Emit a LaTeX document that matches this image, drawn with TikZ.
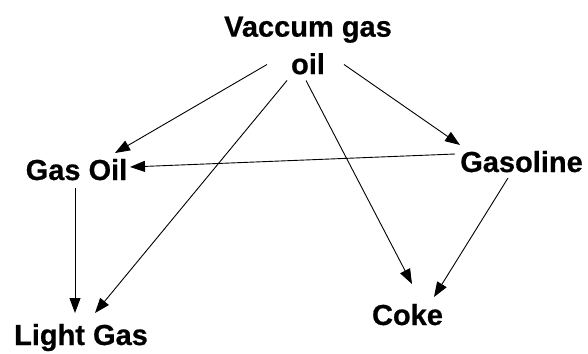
\documentclass[tikz,border=0pt]{standalone}
\usepackage{fontspec}
\setmainfont{Liberation Sans}
\newfontfamily\lblfont{Liberation Sans Bold}[FakeBold=0.6]
\usetikzlibrary{arrows.meta}
\tikzset{
  lbl/.style={font=\fontsize{29}{37.5}\selectfont\lblfont, inner sep=0pt, align=center},
  link/.style={-{Triangle[length=15pt,width=11pt]}, line width=0.9pt}
}
\begin{document}
\begin{tikzpicture}[x=1pt, y=-1pt]
  \useasboundingbox (0,0) rectangle (588,353);
  % products of the cracking scheme
  \node[lbl, anchor=north] (vgo) at (308,16.5) {Vaccum gas\\oil};
  \node[lbl, anchor=base] (go) at (76.5,180) {Gas Oil};
  \node[lbl, anchor=base] (gl) at (521.5,172) {Gasoline};
  \node[lbl, anchor=base] (lg) at (81,345) {Light Gas};
  \node[lbl, anchor=base] (ck) at (407.5,325) {Coke};
  % reaction paths
  \draw[link] ([shift={(-41,48)}]vgo.north) -- ([shift={(38.5,-27)}]go.base);
  \draw[link] ([shift={(-21,64)}]vgo.north) -- ([shift={(14,-32)}]lg.base);
  \draw[link] ([shift={(-2,64)}]vgo.north) -- ([shift={(4.5,-41)}]ck.base);
  \draw[link] ([shift={(36,48)}]vgo.north) -- ([shift={(-61.5,-27)}]gl.base);
  \draw[link] ([shift={(-66.5,-18)}]gl.base) -- ([shift={(53.5,-13)}]go.base);
  \draw[link] ([shift={(-1.5,8)}]go.base) -- ([shift={(-6,-32)}]lg.base);
  \draw[link] ([shift={(-13.5,6)}]gl.base) -- ([shift={(26.5,-28)}]ck.base);
\end{tikzpicture}
\end{document}
